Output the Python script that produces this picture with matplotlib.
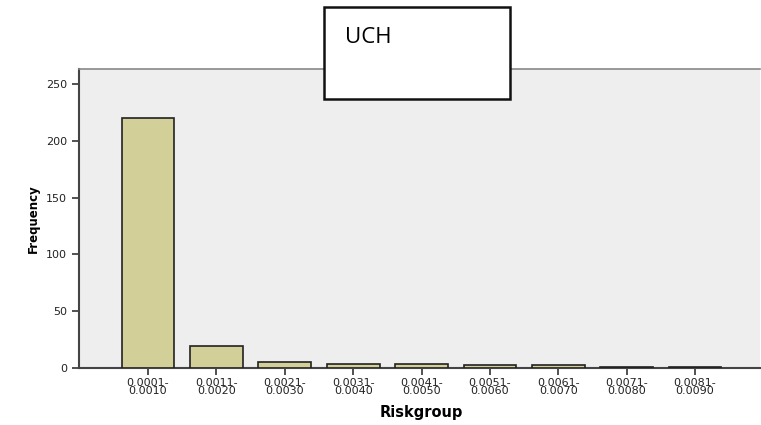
import matplotlib
matplotlib.use("Agg")
import matplotlib.pyplot as plt
from matplotlib.patches import Rectangle

# values
riskgroups = ["0.0001-\n0.0010", "0.0011-\n0.0020", "0.0021-\n0.0030",
              "0.0031-\n0.0040", "0.0041-\n0.0050", "0.0051-\n0.0060",
              "0.0061-\n0.0070", "0.0071-\n0.0080", "0.0081-\n0.0090"]
frequency = [220, 19, 5, 4, 4, 3, 3, 1, 1]
yticks = [0, 50, 100, 150, 200, 250]

plt.rcParams['font.family'] = ['DejaVu Sans']

fig = plt.figure(figsize=(7.61, 4.25), dpi=100)
ax = fig.add_axes([0.1038, 0.134, 0.895, 0.7035])
ax.set_facecolor("#eeeeee")

pos = list(range(len(riskgroups)))
ax.bar(pos, frequency, width=0.77, color="#d3cf98", edgecolor="#222222",
       linewidth=1.2, zorder=3)

ax.set_xlim(-1.01, 8.95)
ax.set_ylim(0, 263)
ax.set_xticks(pos)
ax.set_xticklabels(riskgroups, fontsize=8, linespacing=0.8, color="#222222")
ax.set_yticks(yticks)
ax.tick_params(axis="y", labelsize=8, length=5, width=1.2, color="#333333",
               labelcolor="#222222")
ax.tick_params(axis="x", length=5, width=1.2, color="#333333", pad=2)

for s in ["left", "bottom"]:
    ax.spines[s].set_color("#444444")
    ax.spines[s].set_linewidth(1.5)
ax.spines["top"].set_color("#888888")
ax.spines["top"].set_linewidth(1.2)
ax.spines["right"].set_visible(False)

ax.set_ylabel("Frequency", fontsize=8.5, fontweight="bold")
ax.yaxis.set_label_coords(-0.058, 0.5)
ax.set_xlabel("Riskgroup", fontsize=10.5, fontweight="bold")
ax.xaxis.set_label_coords(0.502, -0.122)

# white title box overlapping the top of the plot area
box = Rectangle((0.4258, 0.767), 0.2444, 0.2165, transform=fig.transFigure,
                facecolor="white", edgecolor="#111111", linewidth=1.8, zorder=10)
fig.patches.append(box)
fig.text(0.453, 0.912, "UCH", fontsize=16, family=["Open Sans", "DejaVu Sans"],
         va="center", ha="left", zorder=11)

fig.savefig("out.png", dpi=100)
